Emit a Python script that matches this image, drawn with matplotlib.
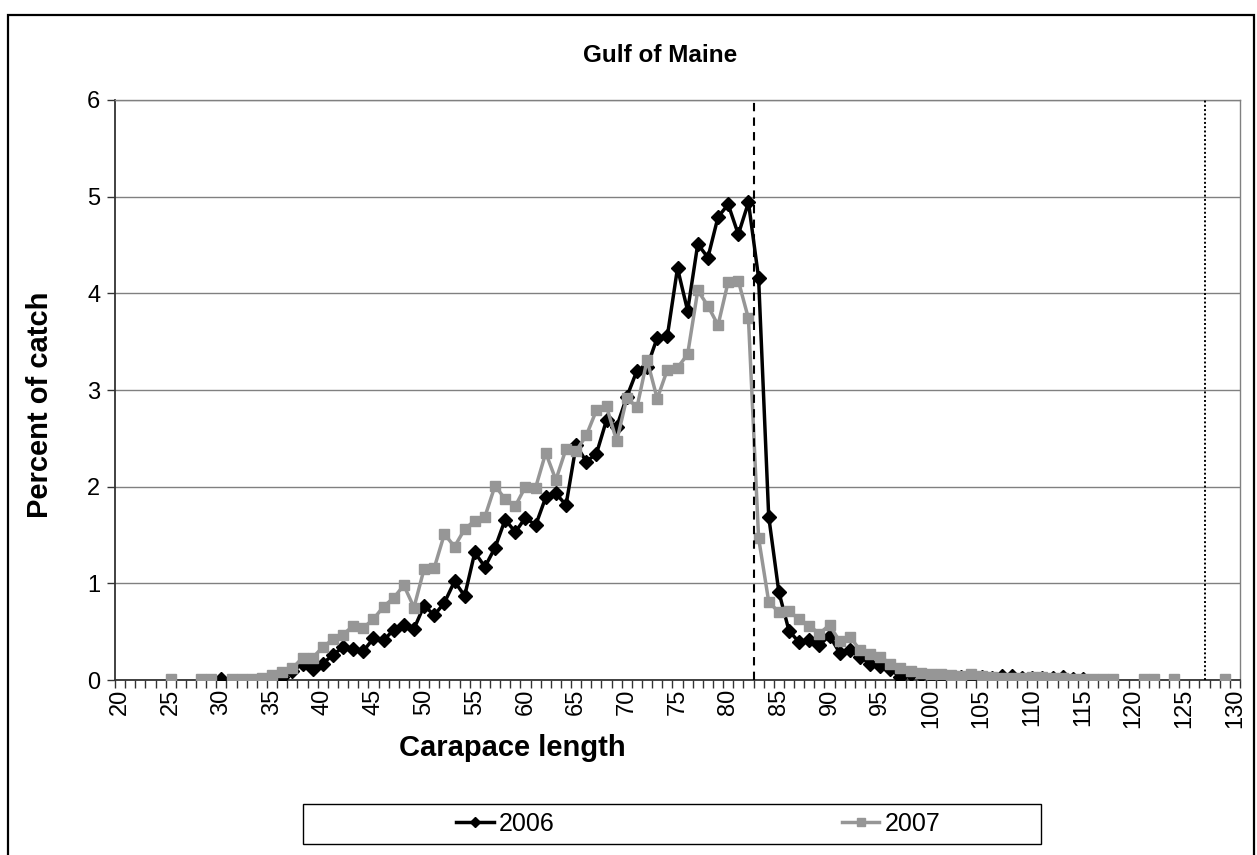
import numpy as np
import matplotlib.pyplot as plt
from matplotlib.lines import Line2D
from matplotlib.patches import Rectangle

plt.rcParams["font.family"] = ["Liberation Sans", "DejaVu Sans"]

# percent of catch by 1 mm carapace-length bin (None = no fish in that bin)
LEN_2006 = list(range(30, 116))
PCT_2006 = [
    0.01, None, None, None, None,
    0.01, 0.03, 0.09, 0.17, 0.11,
    0.17, 0.26, 0.34, 0.32, 0.30,
    0.43, 0.41, 0.52, 0.57, 0.53,
    0.77, 0.67, 0.80, 1.02, 0.87,
    1.32, 1.17, 1.37, 1.66, 1.53,
    1.68, 1.60, 1.89, 1.93, 1.81,
    2.43, 2.26, 2.34, 2.69, 2.62,
    2.93, 3.20, 3.24, 3.54, 3.56,
    4.26, 3.82, 4.51, 4.37, 4.79,
    4.92, 4.61, 4.94, 4.16, 1.69,
    0.91, 0.51, 0.39, 0.41, 0.36,
    0.46, 0.28, 0.31, 0.24, 0.17,
    0.15, 0.11, 0.03, 0.06, 0.05,
    0.04, 0.04, 0.01, 0.03, 0.02,
    0.03, 0.02, 0.04, 0.04, 0.02,
    0.02, 0.02, 0.02, 0.03, 0.01,
    0.01,
]

LEN_2007 = list(range(25, 130))
PCT_2007 = [
    0.01, None, None, 0.01, 0.01,
    None, 0.01, 0.01, 0.01, 0.02,
    0.05, 0.08, 0.12, 0.23, 0.23,
    0.34, 0.42, 0.47, 0.56, 0.54,
    0.63, 0.76, 0.85, 0.98, 0.75,
    1.15, 1.16, 1.51, 1.38, 1.56,
    1.65, 1.69, 2.01, 1.87, 1.80,
    2.00, 1.99, 2.35, 2.07, 2.39,
    2.37, 2.53, 2.79, 2.83, 2.47,
    2.92, 2.82, 3.31, 2.91, 3.21,
    3.23, 3.37, 4.03, 3.87, 3.67,
    4.12, 4.13, 3.74, 1.47, 0.81,
    0.70, 0.71, 0.63, 0.56, 0.48,
    0.57, 0.40, 0.45, 0.31, 0.27,
    0.24, 0.17, 0.12, 0.09, 0.07,
    0.06, 0.06, 0.05, 0.04, 0.06,
    0.04, 0.03, 0.02, 0.02, 0.02,
    0.03, 0.03, 0.02, 0.02, 0.01,
    0.01, 0.01, 0.01, 0.01, None,
    None, 0.01, 0.01, None, 0.01,
    None, None, None, None, 0.01,
]

# legal size limits (mm): minimum and maximum carapace length
MIN_SIZE = 82.55
MAX_SIZE = 127.0

X_FIRST, X_LAST = 20, 130


def as_array(vals):
    return np.array([np.nan if v is None else v for v in vals], dtype=float)


W, H = 1257, 855
fig = plt.figure(figsize=(W / 100, H / 100), dpi=100)
fig.patch.set_facecolor("white")

# outer chart border
fig.add_artist(Rectangle((8 / W, -0.02), (1254 - 8) / W, (H - 15) / H + 0.02,
                         transform=fig.transFigure, fill=False,
                         edgecolor="black", linewidth=1.6, clip_on=False))

ax = fig.add_axes([115 / W, (H - 680) / H, 1125 / W, 580 / H])

ax.plot(LEN_2006, as_array(PCT_2006), color="black", linewidth=2.5,
        marker="D", markersize=7, markerfacecolor="black",
        markeredgecolor="black", zorder=3)
ax.plot(LEN_2007, as_array(PCT_2007), color="#969696", linewidth=2.5,
        marker="s", markersize=7.5, markerfacecolor="#969696",
        markeredgecolor="#969696", zorder=4)

ax.axvline(MIN_SIZE, color="black", linestyle=(0, (4, 3)), linewidth=1.5, zorder=5)
ax.axvline(MAX_SIZE, color="black", linestyle=(0, (1, 1.2)), linewidth=1.4, zorder=5)

ax.set_xlim(X_FIRST - 0.5, X_LAST + 0.5)
ax.set_ylim(0, 6)

# horizontal gridlines
ax.set_yticks(range(0, 7))
ax.yaxis.grid(True, color="#808080", linewidth=1.0)
ax.set_axisbelow(True)

# category-style x axis: ticks between bins, labels every 5 mm
ax.set_xticks(np.arange(X_FIRST, X_LAST + 1, 5))
ax.set_xticks(np.arange(X_FIRST - 0.5, X_LAST + 1), minor=True)
ax.tick_params(axis="x", which="major", length=0, pad=6, labelsize=17,
               labelrotation=90)
ax.tick_params(axis="x", which="minor", length=5.5, width=1.0, direction="out",
               color="#333333")
ax.tick_params(axis="y", which="major", length=5.5, width=1.0, direction="out",
               color="#333333", labelsize=17, pad=5)

for side in ("top", "right"):
    ax.spines[side].set_color("#808080")
    ax.spines[side].set_linewidth(1.0)
for side in ("left", "bottom"):
    ax.spines[side].set_color("#333333")
    ax.spines[side].set_linewidth(1.3)

fig.text(660 / W, 1 - 55 / H, "Gulf of Maine", ha="center", va="center",
         fontsize=17.5, fontweight="bold")
fig.text(40 / W, 1 - 405 / H, "Percent of catch", ha="center", va="center",
         rotation=90, fontsize=21, fontweight="bold")
fig.text(512 / W, 1 - 748 / H, "Carapace length", ha="center", va="center",
         fontsize=21, fontweight="bold")

# legend box below the plot
fig.add_artist(Rectangle((303 / W, 1 - 844 / H), (1041 - 303) / W, 40 / H,
                         transform=fig.transFigure, fill=False,
                         edgecolor="black", linewidth=1.0))
handles = [
    Line2D([], [], color="black", linewidth=2.5, marker="D", markersize=5),
    Line2D([], [], color="#969696", linewidth=2.5, marker="s", markersize=6),
]
fig.legend(handles, ["2006", "2007"], loc="center",
           bbox_to_anchor=(698 / W, 1 - 824 / H), ncol=2, frameon=False,
           fontsize=18, handlelength=1.5, handletextpad=0.2,
           columnspacing=11.5, borderpad=0)

fig.savefig("out.png", dpi=100, facecolor="white")
